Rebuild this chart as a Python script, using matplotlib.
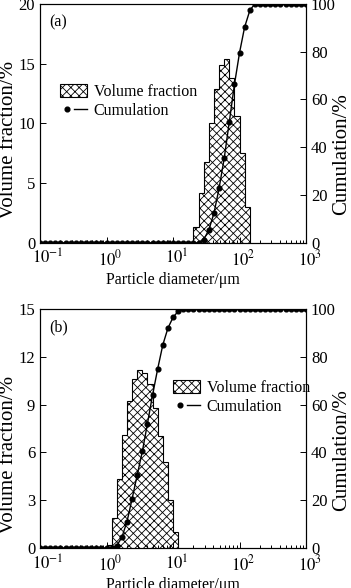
import matplotlib
matplotlib.use('Agg')
import matplotlib.pyplot as plt
import matplotlib.transforms as mtransforms
import numpy as np
from matplotlib.lines import Line2D
from matplotlib.legend_handler import HandlerTuple

plt.rcParams['font.family'] = ['Liberation Serif', 'DejaVu Serif']
plt.rcParams['mathtext.fontset'] = 'stix'
plt.rcParams['font.size'] = 11.5
plt.rcParams['hatch.linewidth'] = 0.6

#-----------
# DATA
#-----------
# analyser channel diameters, um (13 per decade)
diameters = [0.1, 0.119, 0.143, 0.170, 0.203, 0.242, 0.289, 0.346, 0.412, 0.492, 0.588, 0.702, 0.838,
             1.0, 1.19, 1.43, 1.70, 2.03, 2.42, 2.89, 3.46, 4.12, 4.92, 5.88, 7.02, 8.38,
             10, 11.9, 14.3, 17.0, 20.3, 24.2, 28.9, 34.6, 41.2, 49.2, 58.8, 70.2, 83.8,
             100, 119, 143, 170, 203, 242, 289, 346, 412, 492, 588, 702, 838, 1000]

x_ticks = [0.1, 1, 10, 100, 1000]
x_ticklabels = ['$10^{-1}$', '$10^{0}$', '$10^{1}$', '$10^{2}$', '$10^{3}$']

# (a)
edges_a = [20.3, 24.2, 28.9, 34.6, 41.2, 49.2, 58.8, 70.2, 83.8, 100, 119, 143]
volume_a = [1.3, 4.2, 6.8, 10.0, 12.9, 14.9, 15.4, 13.8, 10.6, 7.5, 3.0]
cumul_a = [0] * 32 + [1.3, 5.5, 12.4, 22.8, 35.4, 50.7, 66.3, 79.6, 90.2, 97.3, 100] + [100] * 10

# (b)
edges_b = [1.0, 1.19, 1.43, 1.70, 2.03, 2.42, 2.89, 3.46, 4.12, 4.92, 5.88, 7.02, 8.38, 10, 11.9]
volume_b = [0.2, 1.9, 4.3, 7.1, 9.2, 10.6, 11.2, 11.0, 10.3, 8.8, 7.0, 5.4, 3.0, 1.0]
cumul_b = [0] * 14 + [0.2, 1.0, 4.5, 11.0, 20.5, 30.5, 40.5, 52, 64, 75, 85, 92, 96.5, 99, 100] + [100] * 24

PANELS = [
  # tag, edges, volume, cumul, ymax, yticks, axes rect, legend anchor, ylabel y (left, right)
  ('(a)', edges_a, volume_a, cumul_a, 20, [0, 5, 10, 15, 20], [0.114, 0.587, 0.758, 0.4065],
   (0.075, 0.665), (0.43, 0.37)),
  ('(b)', edges_b, volume_b, cumul_b, 15, [0, 3, 6, 9, 12, 15], [0.114, 0.068, 0.758, 0.4065],
   (0.5, 0.705), (0.39, 0.41)),
]


def draw_panel(fig, tag, edges, volume, cumul, ymax, yticks, rect, anchor, label_y):
  ax = fig.add_axes(rect)
  ax2 = ax.twinx()

  bars = ax.stairs(volume, edges, fill=True, facecolor='white', edgecolor='black',
                   hatch='xxxx', linewidth=0.8, baseline=0)
  ax2.plot(diameters, cumul, color='black', lw=1.0, marker='o', ms=3.4)

  ax.set_xscale('log')
  ax.set_xlim(0.1, 1000)
  ax.set_xticks(x_ticks)
  ax.set_xticklabels(x_ticklabels)
  ax.set_ylim(0, ymax)
  ax.set_yticks(yticks)
  ax2.set_ylim(0, 100)
  ax2.set_yticks([0, 20, 40, 60, 80, 100])

  for a in (ax, ax2):
    a.tick_params(direction='in', which='both', length=4, width=0.7, pad=3.5, labelsize=12)
    a.tick_params(which='minor', length=2)
    for s in a.spines.values():
      s.set_linewidth(0.8)
  ax.tick_params(axis='x', pad=4.5)

  # centre the "10" of each label on its tick, superscript hanging right
  shift = mtransforms.ScaledTranslation(-8.3 / 100, 0, fig.dpi_scale_trans)
  for lab in ax.get_xticklabels():
    lab.set_horizontalalignment('left')
    lab.set_transform(lab.get_transform() + shift)

  ax.set_xlabel('Particle diameter/\u03bcm', labelpad=2)
  ax.set_ylabel('Volume fraction/%', fontsize=15)
  ax2.set_ylabel('Cumulation/%', fontsize=15)
  ax.yaxis.set_label_coords(-0.082, label_y[0])
  ax2.yaxis.set_label_coords(1.097, label_y[1])
  ax.text(0.035, 0.955, tag, transform=ax.transAxes, ha='left', va='top')

  dot = Line2D([], [], color='black', marker='o', ms=3.4, ls='none')
  dash = Line2D([], [], color='black', lw=1.0)
  ax.legend([bars, (dot, dash)], ['Volume fraction', 'Cumulation'],
            handler_map={tuple: HandlerTuple(ndivide=2, pad=0.0)},
            loc='upper left', bbox_to_anchor=anchor, frameon=False,
            handlelength=1.7, handleheight=0.9, handletextpad=0.4,
            labelspacing=0.2, borderaxespad=0, borderpad=0)
  return ax


fig = plt.figure(figsize=(3.51, 5.88), dpi=100)
for p in PANELS:
  draw_panel(fig, *p)
fig.savefig('out.png', dpi=100)
